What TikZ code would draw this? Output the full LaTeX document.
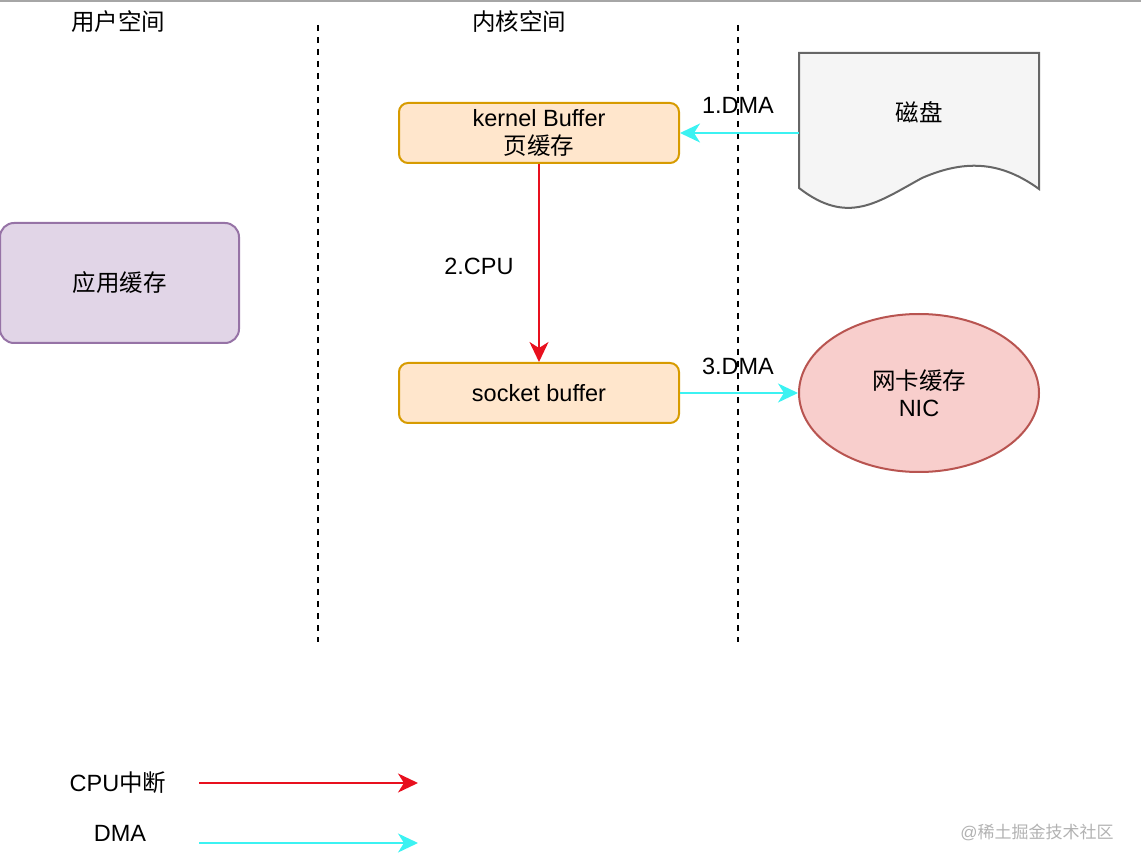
\documentclass[tikz,border=0pt]{standalone}
\usepackage{fontspec}
\setmainfont{Liberation Sans}
\newfontfamily\cjk{Noto Sans CJK SC}
\usetikzlibrary{arrows.meta,shapes.geometric}
\definecolor{cyanline}{HTML}{3CF2F2}
\definecolor{redline}{HTML}{E8101E}
\definecolor{orfill}{HTML}{FFE6CC}
\definecolor{ordraw}{HTML}{D79B00}
\definecolor{pufill}{HTML}{E1D5E7}
\definecolor{pudraw}{HTML}{9673A6}
\definecolor{refill}{HTML}{F8CECC}
\definecolor{redraw}{HTML}{B85450}
\definecolor{grfill}{HTML}{F5F5F5}
\definecolor{grdraw}{HTML}{666666}
\tikzset{
  lbl/.style={font=\fontsize{23.5}{27.5}\selectfont, inner sep=0pt, align=center},
  boxo/.style={draw=ordraw, fill=orfill, line width=2pt, rounded corners=9pt, minimum width=280pt, minimum height=60pt, lbl},
  dmaarrow/.style={draw=cyanline, line width=2pt, -{Stealth[length=20pt,width=19pt,inset=6pt]}},
  cpuarrow/.style={draw=redline, line width=2pt, -{Stealth[length=20pt,width=19pt,inset=6pt]}},
  divider/.style={line width=2pt, dash pattern=on 6pt off 6pt},
}
\begin{document}
\begin{tikzpicture}[x=1pt,y=-1pt]
\useasboundingbox (0,0) rectangle (1141,866);
\draw[gray!70, line width=1.2pt] (0,1) -- (1141,1);
% headers
\node[lbl] (hu) at (118,22) {\cjk 用户空间};
\node[lbl] (hk) at (519,22) {\cjk 内核空间};
% dividers
\coordinate (d1t) at (318,25); \coordinate (d1b) at (318,642);
\coordinate (d2t) at (738,25); \coordinate (d2b) at (738,642);
\draw[divider] (d1t) -- (d1b);
\draw[divider] (d2t) -- (d2b);
% boxes
\node[boxo] (kb) at (539,133) {kernel Buffer\\{\cjk 页缓存}};
\node[boxo] (sb) at (539,393) {socket buffer};
\node[lbl, draw=pudraw, fill=pufill, line width=2pt, rounded corners=14pt, minimum width=239pt, minimum height=120pt] (app) at (119.5,283) {\cjk 应用缓存};
% disk (document shape)
\filldraw[draw=grdraw, fill=grfill, line width=2pt]
  (799,53) -- (1039,53) -- (1039,189)
  .. controls (1003,163) and (968,158) .. (922,178)
  .. controls (878,202) and (848,226) .. (799,188) -- cycle;
\node[lbl] (disk) at (919,112) {\cjk 磁盘};
\coordinate (diskL) at (799,133);
% NIC
\node[lbl, ellipse, draw=redraw, fill=refill, line width=2pt, minimum width=240pt, minimum height=158pt] (nic) at (919,393) {{\cjk 网卡缓存}\\NIC};
% connectors
\draw[dmaarrow] (diskL) -- (kb.east);
\node[lbl] (l1) at (738,105) {1.DMA};
\draw[cpuarrow] (kb.south) -- (sb.north);
\node[lbl] (l2) at (479,266) {2.CPU};
\draw[dmaarrow] (sb.east) -- (nic.west);
\node[lbl] (l3) at (738,366) {3.DMA};
% legend
\node[lbl] (lc) at (118,783) {CPU{\cjk 中断}};
\coordinate (lca) at (199,783); \coordinate (lcb) at (418,783);
\draw[cpuarrow] (lca) -- (lcb);
\node[lbl] (ld) at (120,833) {DMA};
\coordinate (lda) at (199,843); \coordinate (ldb) at (418,843);
\draw[dmaarrow] (lda) -- (ldb);
% watermark
\node[lbl, font=\fontsize{17}{19}\selectfont, text=gray!60] (wm) at (1037,832) {@{\cjk 稀土掘金技术社区}};
\end{tikzpicture}
\end{document}
